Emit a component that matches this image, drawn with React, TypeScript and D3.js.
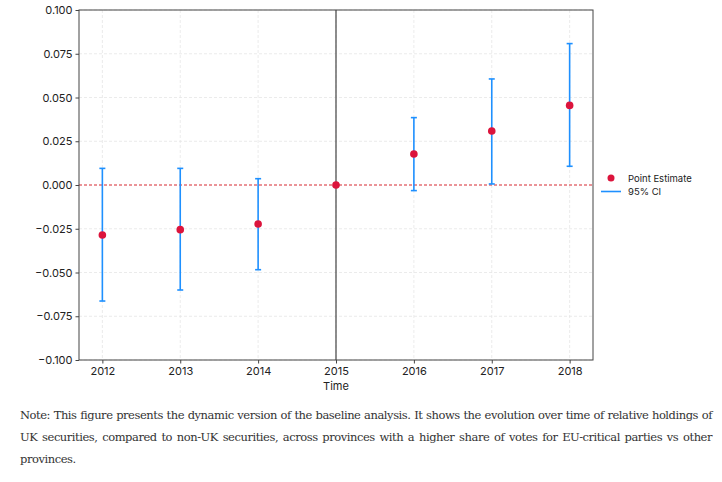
import * as d3 from 'd3';
import { useEffect, useRef } from 'react';

const years = [2012, 2013, 2014, 2015, 2016, 2017, 2018];
const estimates = [-0.0286, -0.0255, -0.0223, 0, 0.0177, 0.0309, 0.0455];
const ciLow = [-0.0663, -0.06, -0.0484, 0, -0.0032, 0.0006, 0.0107];
const ciHigh = [0.0095, 0.0095, 0.0036, 0, 0.0385, 0.0606, 0.0808];
const yTicks = [-0.1, -0.075, -0.05, -0.025, 0, 0.025, 0.05, 0.075, 0.1];
const noteLines = [
  'Note: This figure presents the dynamic version of the baseline analysis. It shows the evolution over time of relative holdings of',
  'UK securities, compared to non-UK securities, across provinces with a higher share of votes for EU-critical parties vs other',
  'provinces.',
];

const W = 722;
const H = 395;
const font = 'Inter, Roboto, sans-serif';

export default function App() {
  const ref = useRef<SVGSVGElement | null>(null);

  useEffect(() => {
    document.body.style.margin = '0';
    if (!ref.current) return;
    const svg = d3.select(ref.current);
    svg.selectAll('*').remove();

    const left = 79, right = 593, top = 10, bottom = 360;
    const x = d3.scaleLinear().domain([2011.7, 2018.3]).range([left, right]);
    const y = d3.scaleLinear().domain([-0.1, 0.1]).range([bottom, top]);

    // grid
    const grid = svg.append('g').attr('stroke', '#e6e6e6').attr('stroke-width', 0.8).attr('stroke-dasharray', '3 2');
    years.forEach((yr) => {
      grid.append('line').attr('x1', x(yr)).attr('x2', x(yr)).attr('y1', top).attr('y2', bottom);
    });
    yTicks.forEach((t) => {
      grid.append('line').attr('x1', left).attr('x2', right).attr('y1', y(t)).attr('y2', y(t));
    });

    // zero line
    svg
      .append('line')
      .attr('x1', left)
      .attr('x2', right)
      .attr('y1', y(0))
      .attr('y2', y(0))
      .attr('stroke', '#e0333a')
      .attr('stroke-width', 1)
      .attr('stroke-dasharray', '3 2');

    // reference year
    svg
      .append('line')
      .attr('x1', x(2015))
      .attr('x2', x(2015))
      .attr('y1', top)
      .attr('y2', bottom)
      .attr('stroke', '#444')
      .attr('stroke-width', 1.2);

    // confidence intervals
    const ci = svg.append('g').attr('stroke', '#1e90ff').attr('stroke-width', 1.6);
    years.forEach((yr, i) => {
      if (ciLow[i] === ciHigh[i]) return;
      const cx = x(yr);
      ci.append('line').attr('x1', cx).attr('x2', cx).attr('y1', y(ciLow[i])).attr('y2', y(ciHigh[i]));
      ci.append('line').attr('x1', cx - 3).attr('x2', cx + 3).attr('y1', y(ciLow[i])).attr('y2', y(ciLow[i]));
      ci.append('line').attr('x1', cx - 3).attr('x2', cx + 3).attr('y1', y(ciHigh[i])).attr('y2', y(ciHigh[i]));
    });

    // points
    svg
      .append('g')
      .selectAll('circle')
      .data(years)
      .join('circle')
      .attr('cx', (d) => x(d))
      .attr('cy', (_, i) => y(estimates[i]))
      .attr('r', 3.8)
      .attr('fill', '#dc143c');

    // frame
    svg
      .append('rect')
      .attr('x', left)
      .attr('y', top)
      .attr('width', right - left)
      .attr('height', bottom - top)
      .attr('fill', 'none')
      .attr('stroke', '#444')
      .attr('stroke-width', 1);

    // axes
    const fmt = (v: number) => (v < 0 ? '\u2212' : '') + Math.abs(v).toFixed(3);
    const yAxis = svg
      .append('g')
      .attr('transform', `translate(${left},0)`)
      .call(d3.axisLeft(y).tickValues(yTicks).tickFormat((d) => fmt(+d)).tickSize(3.5).tickPadding(3));
    const xAxis = svg
      .append('g')
      .attr('transform', `translate(0,${bottom})`)
      .call(d3.axisBottom(x).tickValues(years).tickFormat(d3.format('d')).tickSize(3.5).tickPadding(4));
    [yAxis, xAxis].forEach((a) => {
      a.select('.domain').remove();
      a.selectAll('line').attr('stroke', '#444');
      a.selectAll('text').attr('font-family', font).attr('font-size', 11).attr('fill', '#222');
    });

    svg
      .append('text')
      .attr('x', x(2015))
      .attr('y', 390)
      .attr('text-anchor', 'middle')
      .attr('font-family', font)
      .attr('font-size', 11)
      .attr('fill', '#222')
      .text('Time');

    // legend
    const lg = svg.append('g').attr('font-family', font).attr('font-size', 9.5).attr('fill', '#222');
    lg.append('circle').attr('cx', 611).attr('cy', 178).attr('r', 3.5).attr('fill', '#dc143c');
    lg.append('text').attr('x', 628).attr('y', 181.5).text('Point Estimate');
    lg.append('line').attr('x1', 601).attr('x2', 621).attr('y1', 191.5).attr('y2', 191.5).attr('stroke', '#1e90ff').attr('stroke-width', 1.6);
    lg.append('text').attr('x', 628).attr('y', 195).text('95% CI');
  }, []);

  return (
    <div style={{ position: 'relative', width: W, height: 482, background: '#fff' }}>
      <svg ref={ref} width={W} height={H} style={{ display: 'block' }} />
      <div
        style={{
          position: 'absolute',
          left: 20,
          top: 404,
          width: 692,
          fontFamily: '"DejaVu Serif", serif',
          fontSize: 11.5,
          letterSpacing: '-0.45px',
          lineHeight: '22px',
          color: '#333',
        }}
      >
        {noteLines.map((l, i) => (
          <div
            key={i}
            style={{ whiteSpace: 'nowrap', textAlign: 'justify', textAlignLast: i < noteLines.length - 1 ? 'justify' : 'left' }}
          >
            {l}
          </div>
        ))}
      </div>
    </div>
  );
}
